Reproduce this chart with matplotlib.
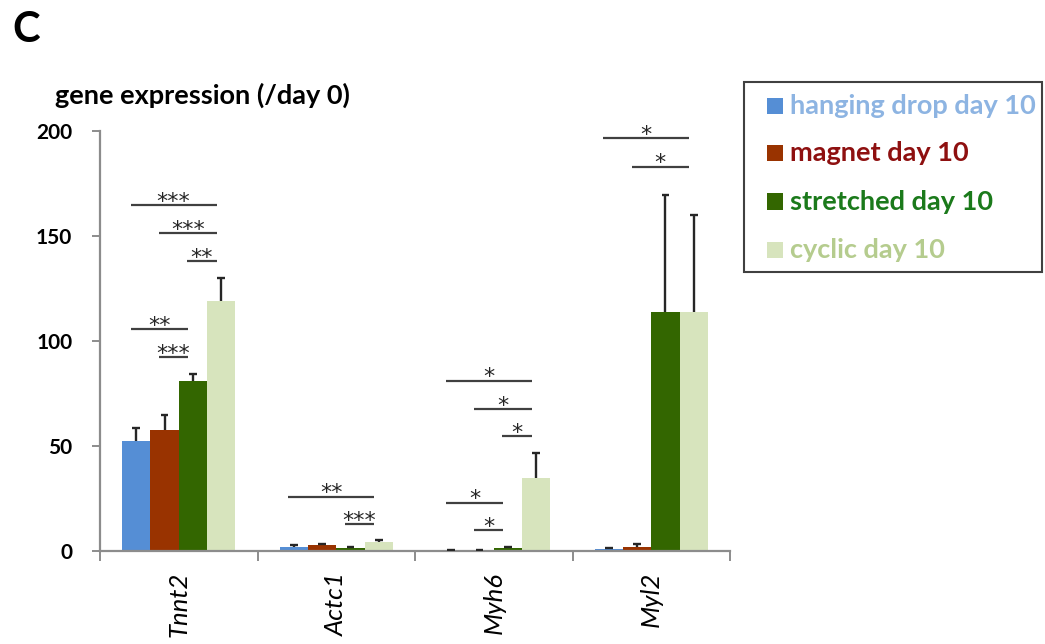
import matplotlib
matplotlib.use("Agg")
import matplotlib.pyplot as plt
from matplotlib.patches import Rectangle
import numpy as np

plt.rcParams['font.family'] = ['Lato', 'DejaVu Sans']

# ---------------- data ----------------
genes = ['Tnnt2', 'Actc1', 'Myh6', 'Myl2']
series = ['hanging drop day 10', 'magnet day 10', 'stretched day 10', 'cyclic day 10']

hanging = [52.5, 2.1, 0.5, 0.8]
hanging_err = [6.0, 0.8, 0.2, 0.7]
magnet = [57.5, 2.7, 0.4, 1.9]
magnet_err = [7.5, 0.6, 0.2, 1.2]
stretched = [81.0, 1.4, 1.3, 114.0]
stretched_err = [3.3, 0.4, 0.7, 55.5]
cyclic = [119.0, 4.1, 34.6, 114.0]
cyclic_err = [11.0, 1.0, 12.2, 45.8]

# significance: (gene index, bar i, bar j, height, label)
signif = [
    (0, 0, 3, 164.8, '***'), (0, 1, 3, 151.3, '***'), (0, 2, 3, 138.2, '**'),
    (0, 0, 2, 105.6, '**'), (0, 1, 2, 92.5, '***'),
    (1, 0, 3, 25.9, '**'), (1, 2, 3, 12.9, '***'),
    (2, 0, 3, 81.1, '*'), (2, 1, 3, 67.6, '*'), (2, 2, 3, 54.8, '*'),
    (2, 0, 2, 23.0, '*'), (2, 1, 2, 10.0, '*'),
    (3, 0, 3, 196.5, '*'), (3, 1, 3, 183.0, '*'),
]

yticks = [0, 50, 100, 150, 200]

# ---------------- styles ----------------
bar_colors = ['#558ED5', '#993300', '#336600', '#D7E4BD']
text_colors = ['#8DB4E2', '#8E1010', '#1B7A1B', '#B5CC8E']
axis_gray = '#8C8C8C'

W, H = 1045, 644
fig = plt.figure(figsize=(W / 100, H / 100), dpi=100)
ax = fig.add_axes([100 / W, 93 / H, 630 / W, 420 / H])

values = [hanging, magnet, stretched, cyclic]
errs = [hanging_err, magnet_err, stretched_err, cyclic_err]
bw = 0.18
offsets = (np.arange(4) - 1.5) * bw
centers = np.arange(len(genes)) + 0.5

for k in range(4):
    x = centers + offsets[k]
    ax.bar(x, values[k], width=bw, color=bar_colors[k], edgecolor='none', zorder=2)
    top = np.array(values[k]) + np.array(errs[k])
    ax.vlines(x, values[k], top, color='#262626', lw=1.7, zorder=3)
    ax.hlines(top, x - 0.024, x + 0.024, color='#262626', lw=1.7, zorder=3)

for g, i, j, yv, lab in signif:
    x0 = centers[g] + offsets[i] - 0.035
    x1 = centers[g] + offsets[j] - 0.03
    ax.plot([x0, x1], [yv, yv], color='#404040', lw=1.6, solid_capstyle='butt', zorder=3)
    ax.annotate(lab, xy=((x0 + x1) / 2, yv), xytext=(0, -2), textcoords='offset points',
                ha='center', va='baseline', fontsize=16, family='DejaVu Sans',
                color='#262626', zorder=4)

ax.set_xlim(0, len(genes))
ax.set_ylim(0, 200)
for s in ['top', 'right']:
    ax.spines[s].set_visible(False)
for s in ['left', 'bottom']:
    ax.spines[s].set_color(axis_gray)
    ax.spines[s].set_linewidth(1.6)

ax.set_yticks(yticks)
ax.set_yticklabels([str(t) for t in yticks], fontsize=15, fontweight='bold')
ax.tick_params(axis='y', direction='out', length=6, width=1.4, color=axis_gray, pad=14)

ax.set_xticks(np.arange(len(genes) + 1))
ax.set_xticklabels([])
ax.tick_params(axis='x', which='major', direction='out', length=7, width=1.4, color=axis_gray)
ax.set_xticks(centers, minor=True)
ax.set_xticklabels(genes, minor=True, rotation=90, fontsize=18.5, style='italic',
                   ha='center', va='top')
ax.tick_params(axis='x', which='minor', length=0, pad=15)

# panel letter and y label
fig.text(12 / W, 1 - 30 / H, 'C', fontsize=30, fontweight='bold', ha='left', va='center')
fig.text(55 / W, 1 - 95 / H, 'gene expression (/day 0)', fontsize=19.5, fontweight='bold',
         ha='left', va='center')

# legend (manual)
fig.patches.append(Rectangle((744 / W, 1 - 272 / H), 298 / W, 190 / H,
                             transform=fig.transFigure, facecolor='white',
                             edgecolor='#404040', lw=1.5))
ys = [106, 153, 201.5, 250]
for k in range(4):
    fig.patches.append(Rectangle((767 / W, 1 - (ys[k] + 8) / H), 16 / W, 16 / H,
                                 transform=fig.transFigure, facecolor=bar_colors[k],
                                 edgecolor='none'))
    fig.text(790 / W, 1 - ys[k] / H, series[k], fontsize=19.5, fontweight='bold',
             color=text_colors[k], ha='left', va='center')

fig.savefig('out.png', dpi=100)
